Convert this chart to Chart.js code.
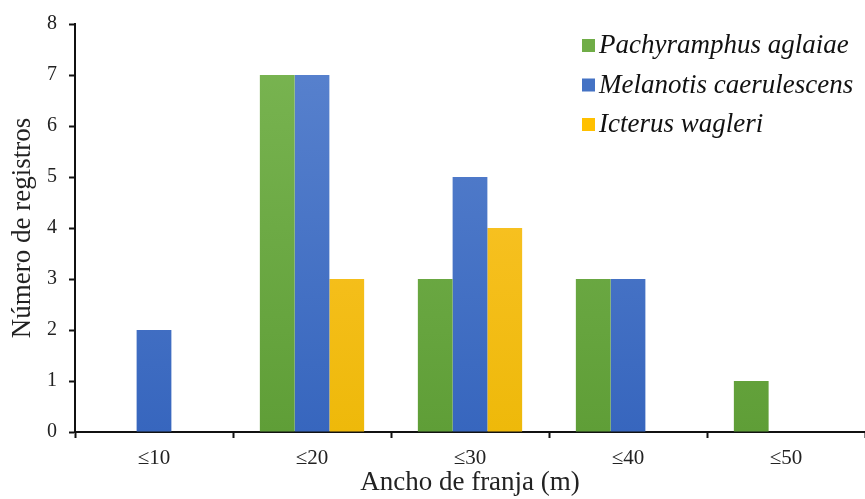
<!DOCTYPE html>
<html>
<head>
<meta charset="utf-8">
<script src="https://cdn.jsdelivr.net/npm/chart.js@4.4.0/dist/chart.umd.min.js"></script>
<style>
  html, body { margin: 0; padding: 0; background: #fff; }
  #wrap { width: 865px; height: 499px; }
</style>
</head>
<body>
<div id="wrap"><canvas id="chart"></canvas></div>
<script>
const categories = ['≤10', '≤20', '≤30', '≤40', '≤50'];
const speciesNames = ['Pachyramphus aglaiae', 'Melanotis caerulescens', 'Icterus wagleri'];
const pachyramphus = [0, 7, 3, 3, 1];
const melanotis = [2, 7, 5, 3, 0];
const icterus = [0, 3, 4, 0, 0];
const yTicks = [0, 1, 2, 3, 4, 5, 6, 7, 8];

// top / bottom colours of each bar gradient
const barColors = [
    ['#7bb653', '#5f9e37'],
    ['#5b84cf', '#3766be'],
    ['#ffc735', '#eeb90a']
];
const legendColors = ['#70ad47', '#4472c4', '#ffc000'];

function gradientFill(idx) {
    return (ctx) => {
        const area = ctx.chart.chartArea;
        if (!area) return barColors[idx][1];
        const g = ctx.chart.ctx.createLinearGradient(0, area.top, 0, area.bottom);
        g.addColorStop(0, barColors[idx][0]);
        g.addColorStop(1, barColors[idx][1]);
        return g;
    };
}

// legend drawn as a vertical list in the top right corner
const sideLegend = {
    id: 'sideLegend',
    afterDraw(chart) {
        const c = chart.ctx;
        c.save();
        c.font = 'italic 27px "Liberation Serif", "Times New Roman", serif';
        c.textBaseline = 'middle';
        chart.data.datasets.forEach((ds, i) => {
            const y = 45 + i * 39.5;
            c.fillStyle = legendColors[i];
            c.fillRect(582, y - 6, 13, 13);
            c.fillStyle = '#111';
            c.fillText(ds.label, 599, y + 1);
        });
        c.restore();
    }
};

const serif = '"Liberation Serif", "Times New Roman", serif';

new Chart(document.getElementById('chart'), {
    type: 'bar',
    data: {
        labels: categories,
        datasets: [
            { label: speciesNames[0], data: pachyramphus, backgroundColor: gradientFill(0) },
            { label: speciesNames[1], data: melanotis, backgroundColor: gradientFill(1) },
            { label: speciesNames[2], data: icterus, backgroundColor: gradientFill(2) }
        ]
    },
    options: {
        responsive: true,
        maintainAspectRatio: false,
        animation: false,
        layout: { padding: { top: 15, right: 0, left: 0, bottom: 0 } },
        datasets: { bar: { barPercentage: 1, categoryPercentage: 0.66 } },
        plugins: {
            legend: { display: false },
            tooltip: { enabled: false }
        },
        scales: {
            x: {
                offset: true,
                grid: {
                    offset: true,
                    drawOnChartArea: false,
                    drawTicks: true,
                    tickLength: 6,
                    tickWidth: 2,
                    tickColor: '#111'
                },
                border: { color: '#111', width: 2 },
                ticks: {
                    color: '#222',
                    padding: 8,
                    font: { family: serif, size: 21 }
                },
                title: {
                    display: true,
                    text: 'Ancho de franja (m)',
                    color: '#222',
                    padding: { top: 0, bottom: 0 },
                    font: { family: serif, size: 27 }
                },
                afterFit(scale) { scale.height = 67; }
            },
            y: {
                min: 0,
                max: 8,
                afterBuildTicks(scale) { scale.ticks = yTicks.map(v => ({ value: v })); },
                grid: {
                    drawOnChartArea: false,
                    drawTicks: true,
                    tickLength: 6,
                    tickWidth: 2,
                    tickColor: '#111'
                },
                border: { color: '#111', width: 2 },
                ticks: {
                    color: '#222',
                    padding: 12,
                    font: { family: serif, size: 20 }
                },
                title: {
                    display: true,
                    text: 'Número de registros',
                    color: '#222',
                    padding: { top: 7, bottom: 0 },
                    font: { family: serif, size: 27 }
                },
                afterFit(scale) { scale.width = 75; }
            }
        }
    },
    plugins: [sideLegend]
});
</script>
</body>
</html>
